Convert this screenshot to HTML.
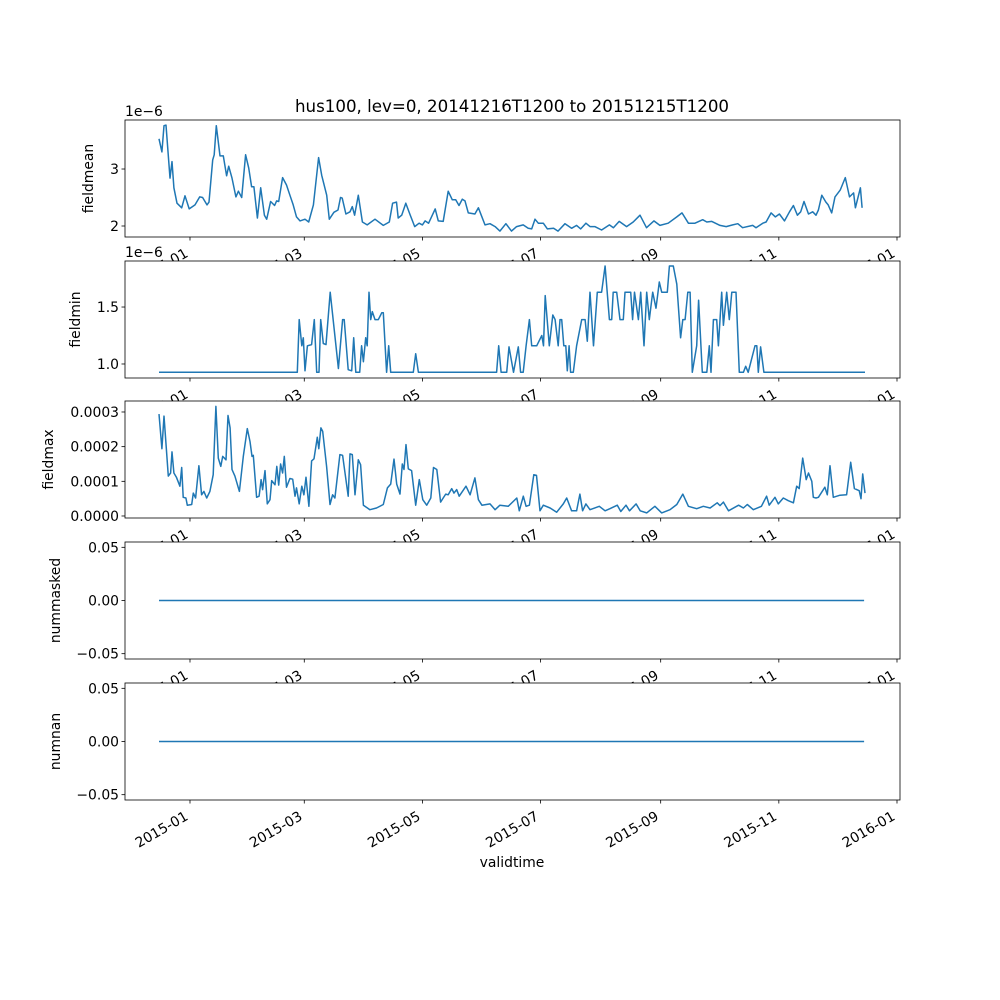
<!DOCTYPE html>
<html><head><meta charset="utf-8"><style>
html,body{margin:0;padding:0;background:#fff;}
svg{display:block;font-family:"DejaVu Sans","Liberation Sans",sans-serif;}
</style></head><body>
<svg id="fig" width="1000" height="1000" viewBox="0 0 1000 1000"></svg>
<script>
// x tick data
const xTickDays = [16, 75, 136, 197, 259, 320, 381];
const xTickLabels = ["2015-01","2015-03","2015-05","2015-07","2015-09","2015-11","2016-01"];
// fieldmean (x1e-6)
const meanDays = [0,1.5,2.6,3.6,5.7,6.7,7.7,9.3,11.7,13.4,15.6,18.6,21,22.5,24.8,25.8,27.7,28.5,29.6,31.5,33.2,34.9,36,37.7,39.7,41,42.7,44.7,46.3,47.8,49,50.8,52.5,54.4,55.6,57.6,59.7,60.7,61.8,63.8,65.8,67.6,69.3,71,72.8,75.4,77.3,79.7,82.4,84,86.6,87.9,90.3,92.4,93.7,94.6,96.5,98.6,99.8,101,102.9,105,107.5,111.5,115.8,118.9,120.6,122.6,123.5,125.3,127.4,129.5,132,134.3,136,137.4,139.2,142.6,144.2,146.7,149.3,151.4,153.2,154.9,156.6,158,159.7,163.1,164.9,168.3,170.9,173.5,176,179.1,182,184.6,188,190.6,192.4,194.1,195.8,198.4,200.5,203.7,206,209.6,213,215.6,217.7,220.4,222.5,225,228.5,232.5,234.6,237.6,241.4,244.8,248.3,251.7,255.5,258.6,262.9,267.3,270,273.3,276.7,280.7,282.8,285.4,289.6,292.8,296.2,298.8,301.3,306.5,308.2,311.7,313.4,316,318.2,320.3,322.9,325.5,327.5,329.6,331.3,333,335.3,337.5,339.2,340.4,342.2,344.3,345.5,347.3,349,351.7,354.3,356.5,358.6,359.5,362.1,363,364];
const meanVals = [3.53,3.30,3.76,3.77,2.84,3.13,2.67,2.40,2.32,2.53,2.30,2.37,2.51,2.50,2.37,2.42,3.16,3.25,3.76,3.23,3.23,2.88,3.05,2.84,2.51,2.61,2.50,3.25,3.02,2.69,2.69,2.14,2.67,2.19,2.12,2.43,2.36,2.44,2.43,2.85,2.72,2.54,2.37,2.16,2.09,2.12,2.07,2.37,3.20,2.89,2.54,2.12,2.24,2.28,2.50,2.49,2.21,2.25,2.34,2.19,2.54,2.07,2.02,2.12,2.01,2.07,2.40,2.42,2.14,2.19,2.40,2.21,1.99,2.05,2.02,2.09,2.05,2.30,2.09,2.08,2.61,2.46,2.46,2.36,2.47,2.44,2.23,2.21,2.32,2.02,2.04,1.99,1.91,2.04,1.91,1.99,2.02,1.96,1.95,2.12,2.05,2.05,1.95,1.96,1.91,2.04,1.96,2.01,1.95,2.05,1.99,1.99,1.93,2.02,1.97,2.08,1.99,2.07,2.19,1.97,2.09,2.01,2.05,2.16,2.23,2.05,2.05,2.11,2.07,2.08,2.01,1.99,2.02,2.04,1.97,2.01,1.97,2.05,2.07,2.23,2.16,2.21,2.09,2.25,2.36,2.19,2.25,2.43,2.21,2.25,2.19,2.28,2.54,2.42,2.37,2.23,2.51,2.63,2.85,2.51,2.58,2.32,2.67,2.32];
// fieldmin (x1e-6)
const minDays = [0,71.4,72.4,73.7,74.5,75.4,76.6,78.8,80.2,81.4,82.6,83.5,84.8,86.2,88.4,92.6,94.8,95.6,97.7,99.5,100.5,101.6,103.6,104.6,105.5,106.7,107.5,108.4,109.3,110.1,111.5,113.2,115,115.8,117.5,118.6,119.6,131.3,132.5,133.9,174.3,175.4,176.6,179.5,180.7,183,185.5,186.7,188,189.5,191.2,192.4,195,197.6,198.5,199.4,201.5,203.3,204.5,206.1,207,207.9,209,210,210.8,211.7,212.5,213.9,215.6,218.2,220,221.1,222.5,224.3,226.3,228.5,230.3,232.5,233.7,234.5,236.3,238,239.7,240.6,243.5,244.5,245.5,247.5,248.7,250.4,251.8,253.1,254.9,256.6,258.3,259.5,262.4,263.5,265.5,267.3,269.3,270.4,271.6,273,274.2,275.3,277.6,278.6,280.5,282.8,284.1,285,286.2,287.9,288.8,290.5,291.4,293.1,294.4,295.7,297.9,299.6,301.7,302.9,304.2,307.7,308.6,309.4,310.6,312.3,364.5];
const minVals = [0.927,0.927,1.39,1.16,1.23,0.94,1.16,1.17,1.39,0.927,0.927,1.39,1.18,1.17,1.63,0.96,1.39,1.39,0.95,0.94,1.23,0.927,0.927,1.16,1.02,1.23,1.16,1.63,1.39,1.46,1.39,1.39,1.45,1.45,0.927,1.16,0.927,0.927,1.09,0.927,0.927,1.16,0.927,0.927,1.15,0.927,1.15,0.927,0.927,1.16,1.39,1.16,1.16,1.25,1.16,1.60,1.16,1.43,1.39,1.16,1.39,1.39,1.16,1.16,0.94,1.16,0.927,0.927,1.16,1.39,1.39,1.2,1.63,1.16,1.63,1.63,1.86,1.39,1.39,1.63,1.63,1.39,1.39,1.63,1.63,1.39,1.63,1.39,1.63,1.16,1.63,1.39,1.63,1.49,1.72,1.63,1.63,1.86,1.86,1.70,1.23,1.39,1.39,1.63,1.63,0.927,1.16,1.56,0.927,0.927,1.16,0.927,1.39,1.39,1.16,1.63,1.34,1.63,1.39,1.63,1.63,0.927,0.927,0.98,0.927,1.16,1.16,0.927,1.15,0.927,0.927];
// fieldmax (x1e-4)
const maxDays = [0,1.5,2.6,4.8,6,6.7,7.7,9,10.8,11.7,12.5,13.9,14.6,16.9,17.7,18.9,20.6,22,23.2,24.6,26.3,28,29.4,30.6,31.9,32.9,34.6,35.6,36.7,37.7,39.2,41.5,43.5,45.6,47,48,48.7,50.4,51.7,52.7,53.5,54.7,55.9,57.3,58.2,59.9,60.8,61.8,62.8,63.8,64.7,65.8,67.6,69,70.2,71,72.4,73.7,74.8,75.9,77.4,78.8,80,81.7,82.5,83.6,84.5,86.5,88.3,89.6,90.8,93.4,94.8,97.7,98.6,99.8,101.2,102.9,104.1,105.5,108.9,112.3,115.8,117.9,119.6,121.3,122.7,124.4,125.6,126.5,127.5,128.7,130.4,132.5,134.4,136.2,138.2,140.3,141.7,143.4,145.4,146.7,148,149.3,151.1,152.3,153.7,155,158.5,160.6,163.1,164.9,166.7,170.9,173.5,176,180.3,184.7,186,188.1,189.5,191.2,193.5,194.9,196.7,198.4,201.9,205.3,208.7,210.5,213,215.6,217.3,218.7,220.4,222.5,227.3,230.3,232.8,236.6,238.4,241.1,242.9,246.3,248.4,251.8,256,259.5,263.8,267.3,270.4,273.3,277.6,281,284.5,288.2,289.6,291.4,294,299.2,301.7,303.7,306.8,311,313.7,315,318,319.7,322.3,324.9,327.5,329.2,330.5,332.3,334.1,335.3,337,337.8,339.2,340.4,343.8,345,346.4,348.1,351.6,355,357.1,359,361.5,362.4,363.3,364.5];
const maxVals = [2.94,1.94,2.88,1.15,1.24,1.85,1.24,1.12,0.86,1.40,0.54,0.52,0.31,0.33,0.66,0.52,1.45,0.61,0.71,0.52,0.71,1.19,3.16,1.67,1.43,1.72,1.62,2.9,2.54,1.34,1.15,0.71,1.72,2.52,2.15,1.72,1.75,0.54,0.57,1.05,0.76,1.31,0.35,0.47,1.02,0.90,1.43,0.89,1.5,1.24,1.72,0.83,1.08,1.06,0.57,0.81,0.35,0.86,0.61,1.12,0.28,1.59,1.65,2.27,1.94,2.54,2.44,1.43,0.33,0.61,0.52,1.77,1.75,0.57,1.79,1.77,0.61,1.62,1.48,0.31,0.18,0.23,0.33,0.81,0.92,1.64,0.92,0.63,1.5,1.34,2.06,1.36,1.31,0.31,1.05,0.47,0.31,0.52,1.40,1.34,0.40,0.52,0.63,0.61,0.79,0.66,0.76,0.57,0.86,0.61,1.1,0.47,0.31,0.35,0.18,0.31,0.28,0.52,0.15,0.57,0.28,0.31,1.19,1.17,0.15,0.31,0.23,0.11,0.35,0.52,0.15,0.15,0.63,0.15,0.35,0.18,0.28,0.15,0.21,0.31,0.13,0.31,0.15,0.35,0.15,0.09,0.28,0.09,0.18,0.33,0.63,0.28,0.21,0.28,0.23,0.38,0.30,0.40,0.15,0.31,0.23,0.33,0.18,0.28,0.57,0.31,0.54,0.35,0.52,0.44,0.38,0.86,0.79,1.67,1.05,1.24,1.0,0.54,0.52,0.54,0.83,0.61,1.45,0.54,0.6,0.61,1.55,0.79,0.73,0.50,1.21,0.66];
// zero series
const zeroDays = [0, 364];
const zeroVals = [0, 0];

const NS = "http://www.w3.org/2000/svg";
const svg = document.getElementById('fig');
const X0 = 125, X1 = 900;
const FS = 13.9;
function xScale(d){ return 159 + d * 1.937; }
function mk(tag, attrs, parent){
  const e = document.createElementNS(NS, tag);
  for (const k in attrs) e.setAttribute(k, attrs[k]);
  (parent || svg).appendChild(e);
  return e;
}
const panels = [
  {name:'fieldmean', top:120, bot:237, lo:1.807, hi:3.86, ticks:[2,3], labels:["2","3"], offset:"1e\u22126", days:meanDays, vals:meanVals, ylx:93},
  {name:'fieldmin', top:261, bot:378, lo:0.877, hi:1.904, ticks:[1.0,1.5], labels:["1.0","1.5"], offset:"1e\u22126", days:minDays, vals:minVals, ylx:80},
  {name:'fieldmax', top:401, bot:518, lo:-0.058, hi:3.317, ticks:[0,1,2,3], labels:["0.0000","0.0001","0.0002","0.0003"], offset:null, days:maxDays, vals:maxVals, ylx:53},
  {name:'nummasked', top:542, bot:659, lo:-0.055, hi:0.055, ticks:[-0.05,0,0.05], labels:["\u22120.05","0.00","0.05"], offset:null, days:zeroDays, vals:zeroVals, ylx:60},
  {name:'numnan', top:683, bot:800, lo:-0.055, hi:0.055, ticks:[-0.05,0,0.05], labels:["\u22120.05","0.00","0.05"], offset:null, days:zeroDays, vals:zeroVals, ylx:60}
];
panels.forEach((p, i) => {
  const g = mk('g', {});
  
  
  const bg = mk('rect', {x:X0, y:p.top, width:X1-X0, height:p.bot-p.top, fill:'#fff'}, g);
  
  
  const yS = v => p.bot - (v - p.lo) / (p.hi - p.lo) * (p.bot - p.top);
  let d = '';
  p.days.forEach((dd, k) => { d += (k ? 'L' : 'M') + xScale(dd).toFixed(1) + ',' + yS(p.vals[k]).toFixed(1); });
  const line = mk('path', {d:d, fill:'none', stroke:'#1f77b4', 'stroke-width':1.5, 'stroke-linejoin':'round'}, g);
  
  
  const fr = mk('rect', {x:X0, y:p.top, width:X1-X0, height:p.bot-p.top, fill:'none', stroke:'#000', 'stroke-width':0.8}, g);
  
  
  p.ticks.forEach((t, k) => {
    const y = yS(t);
    mk('line', {x1:X0-3.5, x2:X0, y1:y, y2:y, stroke:'#000', 'stroke-width':0.8}, g);
    const tl = mk('text', {x:X0-6, y:y+5, 'text-anchor':'end', 'font-size':FS}, g);
    tl.textContent = p.labels[k];
    
    
  });
  xTickDays.forEach((td, k) => {
    const x = xScale(td);
    mk('line', {x1:x, x2:x, y1:p.bot, y2:p.bot+3.5, stroke:'#000', 'stroke-width':0.8}, g);
    const ax = x - 1, ay = p.bot + 19;
    const tl = mk('text', {x:ax, y:ay, 'text-anchor':'end', 'font-size':FS, transform:'rotate(-30 '+ax+' '+ay+')'}, g);
    tl.textContent = xTickLabels[k];
    
    
  });
  if (p.offset) {
    const ot = mk('text', {x:125, y:p.top-4, 'font-size':FS}, g);
    ot.textContent = p.offset;
    
    
  }
  const yl = mk('text', {x:p.ylx, y:(p.top+p.bot)/2, 'text-anchor':'middle', 'font-size':FS, transform:'rotate(-90 '+p.ylx+' '+((p.top+p.bot)/2)+')'}, g);
  yl.textContent = p.name;
  
  
});
const title = mk('text', {x:512, y:112, 'text-anchor':'middle', 'font-size':'16.67'});
title.textContent = 'hus100, lev=0, 20141216T1200 to 20151215T1200';


const xl = mk('text', {x:512, y:867, 'text-anchor':'middle', 'font-size':FS});
xl.textContent = 'validtime';


</script>
</body></html>
